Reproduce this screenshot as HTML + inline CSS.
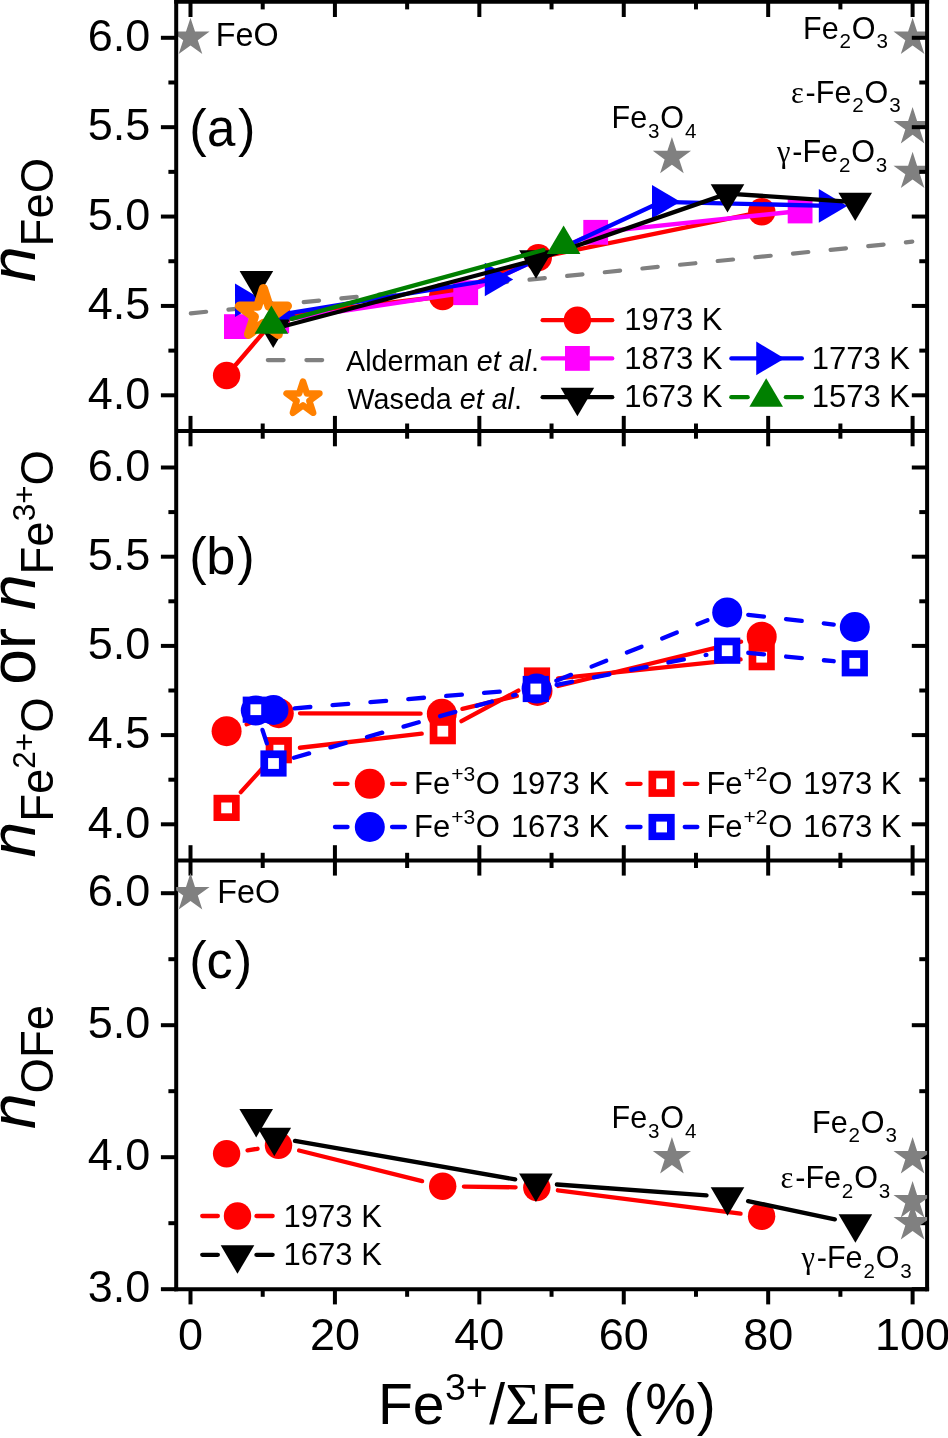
<!DOCTYPE html>
<html><head><meta charset="utf-8"><title>Fe coordination</title>
<style>html,body{margin:0;padding:0;background:#fff}svg{display:block;will-change:transform}</style></head>
<body>
<svg width="948" height="1438" viewBox="0 0 948 1438" font-family="'Liberation Sans', sans-serif" fill="#000">
<rect width="948" height="1438" fill="#fff"/>
<defs>
<clipPath id="ca"><rect x="176.2" y="0" width="750.9" height="431.1"/></clipPath>
<clipPath id="cc"><rect x="176.2" y="860.4" width="750.9" height="428.8"/></clipPath>
</defs>
<g clip-path="url(#ca)">
<polygon points="190.5,17.7 195.01,31.59 209.62,31.59 197.8,40.17 202.31,54.06 190.5,45.48 178.69,54.06 183.2,40.17 171.38,31.59 185.99,31.59" fill="#808080"/>
<polygon points="912.6,17.7 917.11,31.59 931.72,31.59 919.9,40.17 924.41,54.06 912.6,45.48 900.79,54.06 905.3,40.17 893.48,31.59 908.09,31.59" fill="#808080"/>
<polygon points="912.6,107.08 917.11,120.96 931.72,120.96 919.9,129.55 924.41,143.44 912.6,134.85 900.79,143.44 905.3,129.55 893.48,120.96 908.09,120.96" fill="#808080"/>
<polygon points="912.6,151.76 917.11,165.65 931.72,165.65 919.9,174.23 924.41,188.12 912.6,179.54 900.79,188.12 905.3,174.23 893.48,165.65 908.09,165.65" fill="#808080"/>
<polygon points="671.92,136.93 676.44,150.82 691.04,150.82 679.23,159.4 683.74,173.29 671.92,164.7 660.11,173.29 664.62,159.4 652.81,150.82 667.41,150.82" fill="#808080"/>
</g>
<line x1="190.8" y1="313.3" x2="912.3" y2="241.7" stroke="#808080" stroke-width="4.2" stroke-dasharray="15.4 22.42" stroke-linecap="round"/>
<polyline points="226.6,375.5 277.5,316 442.7,296.5 538.3,257.6 761.8,211.8" fill="none" stroke="#ff0000" stroke-width="4.3" stroke-linejoin="round" stroke-linecap="round"/>
<circle cx="226.6" cy="375.5" r="13.7" fill="#ff0000"/>
<circle cx="277.5" cy="316" r="13.7" fill="#ff0000"/>
<circle cx="442.7" cy="296.5" r="13.7" fill="#ff0000"/>
<circle cx="538.3" cy="257.6" r="13.7" fill="#ff0000"/>
<circle cx="761.8" cy="211.8" r="13.7" fill="#ff0000"/>
<polyline points="236.4,326.6 276.7,320.9 465.7,292.7 595.7,232.3 800.1,211" fill="none" stroke="#ff00ff" stroke-width="4.3" stroke-linejoin="round" stroke-linecap="round"/>
<rect x="224" y="314.2" width="24.8" height="24.8" fill="#ff00ff"/>
<rect x="264.3" y="308.5" width="24.8" height="24.8" fill="#ff00ff"/>
<rect x="453.3" y="280.3" width="24.8" height="24.8" fill="#ff00ff"/>
<rect x="583.3" y="219.9" width="24.8" height="24.8" fill="#ff00ff"/>
<rect x="787.7" y="198.6" width="24.8" height="24.8" fill="#ff00ff"/>
<polyline points="244.5,300.3 277,315.2 494.3,279.5 661.5,201.8 828.3,205.9" fill="none" stroke="#0000ff" stroke-width="4.3" stroke-linejoin="round" stroke-linecap="round"/>
<polygon points="235.03,283.5 235.03,317.1 263.43,300.3" fill="#0000ff"/>
<polygon points="267.53,298.4 267.53,332 295.93,315.2" fill="#0000ff"/>
<polygon points="484.83,262.7 484.83,296.3 513.23,279.5" fill="#0000ff"/>
<polygon points="652.03,185 652.03,218.6 680.43,201.8" fill="#0000ff"/>
<polygon points="818.83,189.1 818.83,222.7 847.23,205.9" fill="#0000ff"/>
<polyline points="256.4,280.4 273.2,329 536,259.8 727.5,193.6 855.2,202.1" fill="none" stroke="#000000" stroke-width="4.3" stroke-linejoin="round" stroke-linecap="round"/>
<polygon points="239.6,270.93 273.2,270.93 256.4,299.33" fill="#000000"/>
<polygon points="256.4,319.53 290,319.53 273.2,347.93" fill="#000000"/>
<polygon points="519.2,250.33 552.8,250.33 536,278.73" fill="#000000"/>
<polygon points="710.7,184.13 744.3,184.13 727.5,212.53" fill="#000000"/>
<polygon points="838.4,192.63 872,192.63 855.2,221.03" fill="#000000"/>
<polygon points="263.4,288.7 269.06,306.11 287.37,306.11 272.55,316.87 278.21,334.29 263.4,323.53 248.59,334.29 254.25,316.87 239.43,306.11 257.74,306.11" fill="#fff" stroke="#ff8000" stroke-width="9.3" stroke-linejoin="round"/>
<line x1="291.66" y1="318.86" x2="543.34" y2="250.04" stroke="#008000" stroke-width="4.3" stroke-linecap="round"/>
<polygon points="254.6,333.87 288.2,333.87 271.4,305.47" fill="#008000"/>
<polygon points="546.8,253.97 580.4,253.97 563.6,225.57" fill="#008000"/>
<line x1="246.64" y1="724.29" x2="258.76" y2="720.11" stroke="#ff0000" stroke-width="4.3" stroke-linecap="round"/>
<line x1="300" y1="713.28" x2="420.6" y2="713.72" stroke="#ff0000" stroke-width="4.3" stroke-linecap="round"/>
<line x1="462.42" y1="708.89" x2="516.88" y2="695.91" stroke="#ff0000" stroke-width="4.3" stroke-linecap="round"/>
<line x1="558.1" y1="686.01" x2="741.1" y2="641.69" stroke="#ff0000" stroke-width="4.3" stroke-linecap="round"/>
<circle cx="226.6" cy="731.2" r="15" fill="#ff0000"/>
<circle cx="278.8" cy="713.2" r="15" fill="#ff0000"/>
<circle cx="441.8" cy="713.8" r="15" fill="#ff0000"/>
<circle cx="537.5" cy="691" r="15" fill="#ff0000"/>
<circle cx="761.7" cy="636.7" r="15" fill="#ff0000"/>
<line x1="240.82" y1="792.18" x2="264.58" y2="765.92" stroke="#ff0000" stroke-width="4.3" stroke-linecap="round"/>
<line x1="299.86" y1="747.76" x2="421.74" y2="733.64" stroke="#ff0000" stroke-width="4.3" stroke-linecap="round"/>
<line x1="461.47" y1="721.15" x2="518.33" y2="690.55" stroke="#ff0000" stroke-width="4.3" stroke-linecap="round"/>
<line x1="558.09" y1="678.31" x2="740.61" y2="659.39" stroke="#ff0000" stroke-width="4.3" stroke-linecap="round"/>
<rect x="217.35" y="798.65" width="18.5" height="18.5" fill="#fff" stroke="#ff0000" stroke-width="7.7"/>
<rect x="269.55" y="740.95" width="18.5" height="18.5" fill="#fff" stroke="#ff0000" stroke-width="7.7"/>
<rect x="433.55" y="721.95" width="18.5" height="18.5" fill="#fff" stroke="#ff0000" stroke-width="7.7"/>
<rect x="527.75" y="671.25" width="18.5" height="18.5" fill="#fff" stroke="#ff0000" stroke-width="7.7"/>
<rect x="752.45" y="647.95" width="18.5" height="18.5" fill="#fff" stroke="#ff0000" stroke-width="7.7"/>
<line x1="294.63" y1="708.28" x2="515.47" y2="690.32" stroke="#0000ff" stroke-width="4.3" stroke-dasharray="15.8 22.2" stroke-linecap="round"/>
<line x1="556.29" y1="680.73" x2="707.51" y2="620.27" stroke="#0000ff" stroke-width="4.3" stroke-dasharray="15.8 22.2" stroke-linecap="round"/>
<line x1="748.26" y1="614.81" x2="833.74" y2="624.59" stroke="#0000ff" stroke-width="4.3" stroke-dasharray="15.8 22.2" stroke-linecap="round"/>
<circle cx="255.8" cy="710.6" r="15" fill="#0000ff"/>
<circle cx="273.5" cy="710" r="15" fill="#0000ff"/>
<circle cx="536.6" cy="688.6" r="15" fill="#0000ff"/>
<circle cx="727.2" cy="612.4" r="15" fill="#0000ff"/>
<circle cx="854.8" cy="627" r="15" fill="#0000ff"/>
<line x1="262.43" y1="729.84" x2="266.87" y2="743.36" stroke="#0000ff" stroke-width="4.3" stroke-dasharray="15.8 22.2" stroke-linecap="round"/>
<line x1="293.89" y1="757.71" x2="515.41" y2="694.79" stroke="#0000ff" stroke-width="4.3" stroke-dasharray="15.8 22.2" stroke-linecap="round"/>
<line x1="556.59" y1="684.84" x2="706.41" y2="654.86" stroke="#0000ff" stroke-width="4.3" stroke-dasharray="15.8 22.2" stroke-linecap="round"/>
<line x1="748.3" y1="652.78" x2="833.7" y2="661.22" stroke="#0000ff" stroke-width="4.3" stroke-dasharray="15.8 22.2" stroke-linecap="round"/>
<rect x="246.55" y="700.45" width="18.5" height="18.5" fill="#fff" stroke="#0000ff" stroke-width="7.7"/>
<rect x="264.25" y="754.25" width="18.5" height="18.5" fill="#fff" stroke="#0000ff" stroke-width="7.7"/>
<rect x="526.55" y="679.75" width="18.5" height="18.5" fill="#fff" stroke="#0000ff" stroke-width="7.7"/>
<rect x="717.95" y="641.45" width="18.5" height="18.5" fill="#fff" stroke="#0000ff" stroke-width="7.7"/>
<rect x="845.55" y="654.05" width="18.5" height="18.5" fill="#fff" stroke="#0000ff" stroke-width="7.7"/>
<g stroke="#000" stroke-width="4" fill="none">
<line x1="190.5" x2="190.5" y1="1.8" y2="17"/>
<line x1="262.71" x2="262.71" y1="1.8" y2="9.4"/>
<line x1="334.92" x2="334.92" y1="1.8" y2="17"/>
<line x1="407.13" x2="407.13" y1="1.8" y2="9.4"/>
<line x1="479.34" x2="479.34" y1="1.8" y2="17"/>
<line x1="551.55" x2="551.55" y1="1.8" y2="9.4"/>
<line x1="623.76" x2="623.76" y1="1.8" y2="17"/>
<line x1="695.97" x2="695.97" y1="1.8" y2="9.4"/>
<line x1="768.18" x2="768.18" y1="1.8" y2="17"/>
<line x1="840.39" x2="840.39" y1="1.8" y2="9.4"/>
<line x1="912.6" x2="912.6" y1="1.8" y2="17"/>
<line x1="190.5" x2="190.5" y1="415.9" y2="446.3"/>
<line x1="262.71" x2="262.71" y1="423.5" y2="438.7"/>
<line x1="334.92" x2="334.92" y1="415.9" y2="446.3"/>
<line x1="407.13" x2="407.13" y1="423.5" y2="438.7"/>
<line x1="479.34" x2="479.34" y1="415.9" y2="446.3"/>
<line x1="551.55" x2="551.55" y1="423.5" y2="438.7"/>
<line x1="623.76" x2="623.76" y1="415.9" y2="446.3"/>
<line x1="695.97" x2="695.97" y1="423.5" y2="438.7"/>
<line x1="768.18" x2="768.18" y1="415.9" y2="446.3"/>
<line x1="840.39" x2="840.39" y1="423.5" y2="438.7"/>
<line x1="912.6" x2="912.6" y1="415.9" y2="446.3"/>
<line x1="190.5" x2="190.5" y1="845.2" y2="875.6"/>
<line x1="262.71" x2="262.71" y1="852.8" y2="868"/>
<line x1="334.92" x2="334.92" y1="845.2" y2="875.6"/>
<line x1="407.13" x2="407.13" y1="852.8" y2="868"/>
<line x1="479.34" x2="479.34" y1="845.2" y2="875.6"/>
<line x1="551.55" x2="551.55" y1="852.8" y2="868"/>
<line x1="623.76" x2="623.76" y1="845.2" y2="875.6"/>
<line x1="695.97" x2="695.97" y1="852.8" y2="868"/>
<line x1="768.18" x2="768.18" y1="845.2" y2="875.6"/>
<line x1="840.39" x2="840.39" y1="852.8" y2="868"/>
<line x1="912.6" x2="912.6" y1="845.2" y2="875.6"/>
<line x1="160.9" x2="176.2" y1="395.3" y2="395.3"/>
<line x1="911.8" x2="927.1" y1="395.3" y2="395.3"/>
<line x1="160.9" x2="176.2" y1="305.93" y2="305.93"/>
<line x1="911.8" x2="927.1" y1="305.93" y2="305.93"/>
<line x1="160.9" x2="176.2" y1="216.55" y2="216.55"/>
<line x1="911.8" x2="927.1" y1="216.55" y2="216.55"/>
<line x1="160.9" x2="176.2" y1="127.18" y2="127.18"/>
<line x1="911.8" x2="927.1" y1="127.18" y2="127.18"/>
<line x1="160.9" x2="176.2" y1="37.8" y2="37.8"/>
<line x1="911.8" x2="927.1" y1="37.8" y2="37.8"/>
<line x1="168.4" x2="176.2" y1="350.61" y2="350.61"/>
<line x1="919.3" x2="927.1" y1="350.61" y2="350.61"/>
<line x1="168.4" x2="176.2" y1="261.24" y2="261.24"/>
<line x1="919.3" x2="927.1" y1="261.24" y2="261.24"/>
<line x1="168.4" x2="176.2" y1="171.86" y2="171.86"/>
<line x1="919.3" x2="927.1" y1="171.86" y2="171.86"/>
<line x1="168.4" x2="176.2" y1="82.49" y2="82.49"/>
<line x1="919.3" x2="927.1" y1="82.49" y2="82.49"/>
<line x1="160.9" x2="176.2" y1="824.3" y2="824.3"/>
<line x1="911.8" x2="927.1" y1="824.3" y2="824.3"/>
<line x1="160.9" x2="176.2" y1="735.1" y2="735.1"/>
<line x1="911.8" x2="927.1" y1="735.1" y2="735.1"/>
<line x1="160.9" x2="176.2" y1="645.9" y2="645.9"/>
<line x1="911.8" x2="927.1" y1="645.9" y2="645.9"/>
<line x1="160.9" x2="176.2" y1="556.7" y2="556.7"/>
<line x1="911.8" x2="927.1" y1="556.7" y2="556.7"/>
<line x1="160.9" x2="176.2" y1="467.5" y2="467.5"/>
<line x1="911.8" x2="927.1" y1="467.5" y2="467.5"/>
<line x1="168.4" x2="176.2" y1="779.7" y2="779.7"/>
<line x1="919.3" x2="927.1" y1="779.7" y2="779.7"/>
<line x1="168.4" x2="176.2" y1="690.5" y2="690.5"/>
<line x1="919.3" x2="927.1" y1="690.5" y2="690.5"/>
<line x1="168.4" x2="176.2" y1="601.3" y2="601.3"/>
<line x1="919.3" x2="927.1" y1="601.3" y2="601.3"/>
<line x1="168.4" x2="176.2" y1="512.1" y2="512.1"/>
<line x1="919.3" x2="927.1" y1="512.1" y2="512.1"/>
</g>
<g stroke="#000" stroke-width="4" fill="none">
<line x1="190.5" x2="190.5" y1="1289.2" y2="1304.4"/>
<line x1="262.71" x2="262.71" y1="1289.2" y2="1296.8"/>
<line x1="334.92" x2="334.92" y1="1289.2" y2="1304.4"/>
<line x1="407.13" x2="407.13" y1="1289.2" y2="1296.8"/>
<line x1="479.34" x2="479.34" y1="1289.2" y2="1304.4"/>
<line x1="551.55" x2="551.55" y1="1289.2" y2="1296.8"/>
<line x1="623.76" x2="623.76" y1="1289.2" y2="1304.4"/>
<line x1="695.97" x2="695.97" y1="1289.2" y2="1296.8"/>
<line x1="768.18" x2="768.18" y1="1289.2" y2="1304.4"/>
<line x1="840.39" x2="840.39" y1="1289.2" y2="1296.8"/>
<line x1="912.6" x2="912.6" y1="1289.2" y2="1304.4"/>
<line x1="160.9" x2="176.2" y1="1289.2" y2="1289.2"/>
<line x1="911.8" x2="927.1" y1="1289.2" y2="1289.2"/>
<line x1="160.9" x2="176.2" y1="1157.2" y2="1157.2"/>
<line x1="911.8" x2="927.1" y1="1157.2" y2="1157.2"/>
<line x1="160.9" x2="176.2" y1="1025.2" y2="1025.2"/>
<line x1="911.8" x2="927.1" y1="1025.2" y2="1025.2"/>
<line x1="160.9" x2="176.2" y1="893.2" y2="893.2"/>
<line x1="911.8" x2="927.1" y1="893.2" y2="893.2"/>
<line x1="168.4" x2="176.2" y1="1223.2" y2="1223.2"/>
<line x1="919.3" x2="927.1" y1="1223.2" y2="1223.2"/>
<line x1="168.4" x2="176.2" y1="1091.2" y2="1091.2"/>
<line x1="919.3" x2="927.1" y1="1091.2" y2="1091.2"/>
<line x1="168.4" x2="176.2" y1="959.2" y2="959.2"/>
<line x1="919.3" x2="927.1" y1="959.2" y2="959.2"/>
</g>
<g stroke="#000" stroke-width="4" fill="none" stroke-linecap="square">
<line x1="176.2" x2="176.2" y1="1.8" y2="1289.2"/>
<line x1="927.1" x2="927.1" y1="1.8" y2="1289.2"/>
<line x1="176.2" x2="927.1" y1="1.8" y2="1.8"/>
<line x1="176.2" x2="927.1" y1="1289.2" y2="1289.2"/>
<line x1="176.2" x2="927.1" y1="431.1" y2="431.1" stroke-linecap="butt"/>
<line x1="176.2" x2="927.1" y1="860.4" y2="860.4" stroke-linecap="butt"/>
</g>
<g clip-path="url(#cc)">
<polygon points="190.5,873.1 195.01,886.99 209.62,886.99 197.8,895.57 202.31,909.46 190.5,900.88 178.69,909.46 183.2,895.57 171.38,886.99 185.99,886.99" fill="#808080"/>
<polygon points="912.6,1137.1 917.11,1150.99 931.72,1150.99 919.9,1159.57 924.41,1173.46 912.6,1164.88 900.79,1173.46 905.3,1159.57 893.48,1150.99 908.09,1150.99" fill="#808080"/>
<polygon points="912.6,1181.06 917.11,1194.94 931.72,1194.94 919.9,1203.53 924.41,1217.42 912.6,1208.83 900.79,1217.42 905.3,1203.53 893.48,1194.94 908.09,1194.94" fill="#808080"/>
<polygon points="912.6,1203.1 917.11,1216.99 931.72,1216.99 919.9,1225.57 924.41,1239.46 912.6,1230.88 900.79,1239.46 905.3,1225.57 893.48,1216.99 908.09,1216.99" fill="#808080"/>
<polygon points="671.92,1137.1 676.44,1150.99 691.04,1150.99 679.23,1159.57 683.74,1173.46 671.92,1164.88 660.11,1173.46 664.62,1159.57 652.81,1150.99 667.41,1150.99" fill="#808080"/>
</g>
<line x1="247.53" y1="1150.41" x2="257.57" y2="1148.79" stroke="#ff0000" stroke-width="4.3" stroke-linecap="round"/>
<line x1="299.07" y1="1150.52" x2="422.13" y2="1181.18" stroke="#ff0000" stroke-width="4.3" stroke-linecap="round"/>
<line x1="463.9" y1="1186.59" x2="515.6" y2="1187.31" stroke="#ff0000" stroke-width="4.3" stroke-linecap="round"/>
<line x1="557.83" y1="1190.28" x2="740.57" y2="1213.62" stroke="#ff0000" stroke-width="4.3" stroke-linecap="round"/>
<circle cx="226.6" cy="1153.8" r="13.7" fill="#ff0000"/>
<circle cx="278.5" cy="1145.4" r="13.7" fill="#ff0000"/>
<circle cx="442.7" cy="1186.3" r="13.7" fill="#ff0000"/>
<circle cx="536.8" cy="1187.6" r="13.7" fill="#ff0000"/>
<circle cx="761.6" cy="1216.3" r="13.7" fill="#ff0000"/>
<line x1="294.99" y1="1140.91" x2="515.21" y2="1179.39" stroke="#000000" stroke-width="4.3" stroke-linecap="round"/>
<line x1="556.85" y1="1184.51" x2="706.55" y2="1195.29" stroke="#000000" stroke-width="4.3" stroke-linecap="round"/>
<line x1="748.05" y1="1201.12" x2="834.85" y2="1219.38" stroke="#000000" stroke-width="4.3" stroke-linecap="round"/>
<polygon points="239.4,1109.03 273,1109.03 256.2,1137.43" fill="#000000"/>
<polygon points="257.5,1127.83 291.1,1127.83 274.3,1156.23" fill="#000000"/>
<polygon points="519.1,1173.53 552.7,1173.53 535.9,1201.93" fill="#000000"/>
<polygon points="710.7,1187.33 744.3,1187.33 727.5,1215.73" fill="#000000"/>
<polygon points="838.6,1214.23 872.2,1214.23 855.4,1242.63" fill="#000000"/>
<line x1="267.8" y1="360.1" x2="323" y2="360.1" stroke="#808080" stroke-width="4.2" stroke-dasharray="15.8 22.8" stroke-linecap="round"/>
<polygon points="303,381.5 306.88,393.45 319.45,393.45 309.28,400.84 313.17,412.8 303,405.41 292.83,412.8 296.72,400.84 286.55,393.45 299.12,393.45" fill="#fff" stroke="#ff8000" stroke-width="6.5" stroke-linejoin="round"/>
<text x="346" y="370.5" font-size="28.7" text-anchor="start">Alderman <tspan font-style="italic">et al</tspan>.</text>
<text x="347.6" y="408.5" font-size="28.7" text-anchor="start">Waseda <tspan font-style="italic">et al</tspan>.</text>
<line x1="542.65" y1="320.2" x2="612.25" y2="320.2" stroke="#ff0000" stroke-width="4.3" stroke-linecap="round"/>
<circle cx="577.4" cy="320.2" r="13.7" fill="#ff0000"/>
<line x1="542.65" y1="358.4" x2="612.25" y2="358.4" stroke="#ff00ff" stroke-width="4.3" stroke-linecap="round"/>
<rect x="565" y="346" width="24.8" height="24.8" fill="#ff00ff"/>
<line x1="542.65" y1="397.2" x2="612.25" y2="397.2" stroke="#000000" stroke-width="4.3" stroke-linecap="round"/>
<polygon points="560.6,387.73 594.2,387.73 577.4,416.13" fill="#000000"/>
<line x1="731.35" y1="358.4" x2="801.85" y2="358.4" stroke="#0000ff" stroke-width="4.3" stroke-linecap="round"/>
<polygon points="756.23,341.6 756.23,375.2 784.63,358.4" fill="#0000ff"/>
<line x1="731.35" y1="397.2" x2="747.65" y2="397.2" stroke="#008000" stroke-width="4.3" stroke-linecap="round"/>
<line x1="785.85" y1="397.2" x2="801.85" y2="397.2" stroke="#008000" stroke-width="4.3" stroke-linecap="round"/>
<polygon points="749.4,406.67 783,406.67 766.2,378.27" fill="#008000"/>
<text x="624.3" y="330.3" font-size="31" text-anchor="start">1973 K</text>
<text x="624.3" y="368.7" font-size="31" text-anchor="start">1873 K</text>
<text x="624.3" y="407" font-size="31" text-anchor="start">1673 K</text>
<text x="811.8" y="368.7" font-size="31" text-anchor="start">1773 K</text>
<text x="811.8" y="407" font-size="31" text-anchor="start">1573 K</text>
<line x1="334.95" y1="783.8" x2="347.55" y2="783.8" stroke="#ff0000" stroke-width="4.3" stroke-linecap="round"/>
<line x1="392.05" y1="783.8" x2="404.95" y2="783.8" stroke="#ff0000" stroke-width="4.3" stroke-linecap="round"/>
<circle cx="369.8" cy="783.8" r="15" fill="#ff0000"/>
<line x1="627.35" y1="783.8" x2="640.55" y2="783.8" stroke="#ff0000" stroke-width="4.3" stroke-linecap="round"/>
<line x1="684.75" y1="783.8" x2="697.35" y2="783.8" stroke="#ff0000" stroke-width="4.3" stroke-linecap="round"/>
<rect x="652.35" y="774.55" width="18.5" height="18.5" fill="#fff" stroke="#ff0000" stroke-width="7.7"/>
<text x="414" y="794" font-size="31" text-anchor="start">Fe<tspan font-size="21" dy="-13.3" dx="1">+3</tspan><tspan dy="13.3" dx="0.7">O</tspan><tspan dx="2.3"> 1973 K</tspan></text>
<text x="706.4" y="794" font-size="31" text-anchor="start">Fe<tspan font-size="21" dy="-13.3" dx="1">+2</tspan><tspan dy="13.3" dx="0.7">O</tspan><tspan dx="2.3"> 1973 K</tspan></text>
<line x1="334.95" y1="827" x2="347.55" y2="827" stroke="#0000ff" stroke-width="4.3" stroke-linecap="round"/>
<line x1="392.05" y1="827" x2="404.95" y2="827" stroke="#0000ff" stroke-width="4.3" stroke-linecap="round"/>
<circle cx="369.8" cy="827" r="15" fill="#0000ff"/>
<line x1="627.35" y1="827" x2="640.55" y2="827" stroke="#0000ff" stroke-width="4.3" stroke-linecap="round"/>
<line x1="684.75" y1="827" x2="697.35" y2="827" stroke="#0000ff" stroke-width="4.3" stroke-linecap="round"/>
<rect x="652.35" y="817.75" width="18.5" height="18.5" fill="#fff" stroke="#0000ff" stroke-width="7.7"/>
<text x="414" y="837.2" font-size="31" text-anchor="start">Fe<tspan font-size="21" dy="-13.3" dx="1">+3</tspan><tspan dy="13.3" dx="0.7">O</tspan><tspan dx="2.3"> 1673 K</tspan></text>
<text x="706.4" y="837.2" font-size="31" text-anchor="start">Fe<tspan font-size="21" dy="-13.3" dx="1">+2</tspan><tspan dy="13.3" dx="0.7">O</tspan><tspan dx="2.3"> 1673 K</tspan></text>
<line x1="202.25" y1="1216" x2="217.85" y2="1216" stroke="#ff0000" stroke-width="4.3" stroke-linecap="round"/>
<line x1="256.45" y1="1216" x2="272.65" y2="1216" stroke="#ff0000" stroke-width="4.3" stroke-linecap="round"/>
<circle cx="237.5" cy="1216" r="13.7" fill="#ff0000"/>
<line x1="202.25" y1="1254.8" x2="217.85" y2="1254.8" stroke="#000000" stroke-width="4.3" stroke-linecap="round"/>
<line x1="256.45" y1="1254.8" x2="272.65" y2="1254.8" stroke="#000000" stroke-width="4.3" stroke-linecap="round"/>
<polygon points="220.7,1245.33 254.3,1245.33 237.5,1273.73" fill="#000000"/>
<text x="283.6" y="1226.5" font-size="31" text-anchor="start">1973 K</text>
<text x="283.6" y="1264.9" font-size="31" text-anchor="start">1673 K</text>
<text x="215.7" y="46.3" font-size="32.3" text-anchor="start">FeO</text>
<text x="217.2" y="902.6" font-size="32.3" text-anchor="start">FeO</text>
<text x="803" y="38.8" font-size="30.5" text-anchor="start">Fe<tspan font-size="20.6" dy="9.4" dx="0.85">2</tspan><tspan dy="-9.4" dx="0.9">O</tspan><tspan font-size="20.6" dy="9.4" dx="0.85">3</tspan></text>
<text x="791" y="102.7" font-size="30.5" text-anchor="start"><tspan font-family="'Liberation Serif', serif">&#949;</tspan><tspan dx="1.8">-</tspan>Fe<tspan font-size="20.6" dy="9.4" dx="0.85">2</tspan><tspan dy="-9.4" dx="0.9">O</tspan><tspan font-size="20.6" dy="9.4" dx="0.85">3</tspan></text>
<text x="777" y="162.4" font-size="30.5" text-anchor="start"><tspan font-family="'Liberation Serif', serif">&#947;</tspan><tspan dx="1.8">-</tspan>Fe<tspan font-size="20.6" dy="9.4" dx="0.85">2</tspan><tspan dy="-9.4" dx="0.9">O</tspan><tspan font-size="20.6" dy="9.4" dx="0.85">3</tspan></text>
<text x="611.5" y="128.4" font-size="30.5" text-anchor="start">Fe<tspan font-size="20.6" dy="9.4" dx="0.85">3</tspan><tspan dy="-9.4" dx="0.9">O</tspan><tspan font-size="20.6" dy="9.4" dx="0.85">4</tspan></text>
<text x="611.5" y="1128.1" font-size="30.5" text-anchor="start">Fe<tspan font-size="20.6" dy="9.4" dx="0.85">3</tspan><tspan dy="-9.4" dx="0.9">O</tspan><tspan font-size="20.6" dy="9.4" dx="0.85">4</tspan></text>
<text x="812" y="1132.9" font-size="30.5" text-anchor="start">Fe<tspan font-size="20.6" dy="9.4" dx="0.85">2</tspan><tspan dy="-9.4" dx="0.9">O</tspan><tspan font-size="20.6" dy="9.4" dx="0.85">3</tspan></text>
<text x="780.6" y="1188.2" font-size="30.5" text-anchor="start"><tspan font-family="'Liberation Serif', serif">&#949;</tspan><tspan dx="1.8">-</tspan>Fe<tspan font-size="20.6" dy="9.4" dx="0.85">2</tspan><tspan dy="-9.4" dx="0.9">O</tspan><tspan font-size="20.6" dy="9.4" dx="0.85">3</tspan></text>
<text x="801.5" y="1268.4" font-size="30.5" text-anchor="start"><tspan font-family="'Liberation Serif', serif">&#947;</tspan><tspan dx="1.8">-</tspan>Fe<tspan font-size="20.6" dy="9.4" dx="0.85">2</tspan><tspan dy="-9.4" dx="0.9">O</tspan><tspan font-size="20.6" dy="9.4" dx="0.85">3</tspan></text>
<text x="189.3" y="145.5" font-size="52.3" text-anchor="start">(<tspan x="207.0" font-size="51">a</tspan><tspan x="238.1">)</tspan></text>
<text x="189.3" y="574.4" font-size="52.3" text-anchor="start">(<tspan x="206.3" font-size="52.3">b</tspan><tspan x="237.2">)</tspan></text>
<text x="189.3" y="978.1" font-size="52.3" text-anchor="start">(<tspan x="206.4" font-size="52.3">c</tspan><tspan x="234.7">)</tspan></text>
<text x="150.4" y="408.5" font-size="45" text-anchor="end">4.0</text>
<text x="150.4" y="837.5" font-size="45" text-anchor="end">4.0</text>
<text x="150.4" y="319.12" font-size="45" text-anchor="end">4.5</text>
<text x="150.4" y="748.3" font-size="45" text-anchor="end">4.5</text>
<text x="150.4" y="229.75" font-size="45" text-anchor="end">5.0</text>
<text x="150.4" y="659.1" font-size="45" text-anchor="end">5.0</text>
<text x="150.4" y="140.38" font-size="45" text-anchor="end">5.5</text>
<text x="150.4" y="569.9" font-size="45" text-anchor="end">5.5</text>
<text x="150.4" y="51" font-size="45" text-anchor="end">6.0</text>
<text x="150.4" y="480.7" font-size="45" text-anchor="end">6.0</text>
<text x="150.4" y="1302.4" font-size="45" text-anchor="end">3.0</text>
<text x="150.4" y="1170.4" font-size="45" text-anchor="end">4.0</text>
<text x="150.4" y="1038.4" font-size="45" text-anchor="end">5.0</text>
<text x="150.4" y="906.4" font-size="45" text-anchor="end">6.0</text>
<text x="190.5" y="1350.1" font-size="45" text-anchor="middle">0</text>
<text x="334.92" y="1350.1" font-size="45" text-anchor="middle">20</text>
<text x="479.34" y="1350.1" font-size="45" text-anchor="middle">40</text>
<text x="623.76" y="1350.1" font-size="45" text-anchor="middle">60</text>
<text x="768.18" y="1350.1" font-size="45" text-anchor="middle">80</text>
<text x="912.6" y="1350.1" font-size="45" text-anchor="middle">100</text>
<text x="377.9" y="1424.4" font-size="57">Fe<tspan font-size="37.4" dy="-24.8" dx="0.5">3+</tspan><tspan dy="24.8" dx="1.8">/</tspan><tspan font-family="'Liberation Serif', serif" font-size="60">&#931;</tspan><tspan dx="0.6">Fe</tspan><tspan dx="-0.5"> </tspan><tspan dx="0.6">(</tspan><tspan dx="3">%</tspan><tspan dx="0.8">)</tspan></text>
<text transform="translate(35.2,282) rotate(-90)" font-size="64"><tspan font-style="italic">n</tspan><tspan font-size="45.5" dy="18">FeO</tspan></text>
<text transform="translate(35.4,1129) rotate(-90)" font-size="64"><tspan font-style="italic">n</tspan><tspan font-size="45.5" dy="18">OFe</tspan></text>
<text transform="translate(35.3,857.4) rotate(-90)" font-size="64"><tspan font-style="italic">n</tspan><tspan font-size="45.5" dy="18">Fe</tspan><tspan font-size="31.5" dy="-18.6">2+</tspan><tspan font-size="45.5" dy="18.6">O </tspan><tspan dy="-18">or </tspan><tspan font-style="italic">n</tspan><tspan font-size="45.5" dy="18">Fe</tspan><tspan font-size="31.5" dy="-18.6">3+</tspan><tspan font-size="45.5" dy="18.6">O</tspan></text>
</svg>
</body></html>
